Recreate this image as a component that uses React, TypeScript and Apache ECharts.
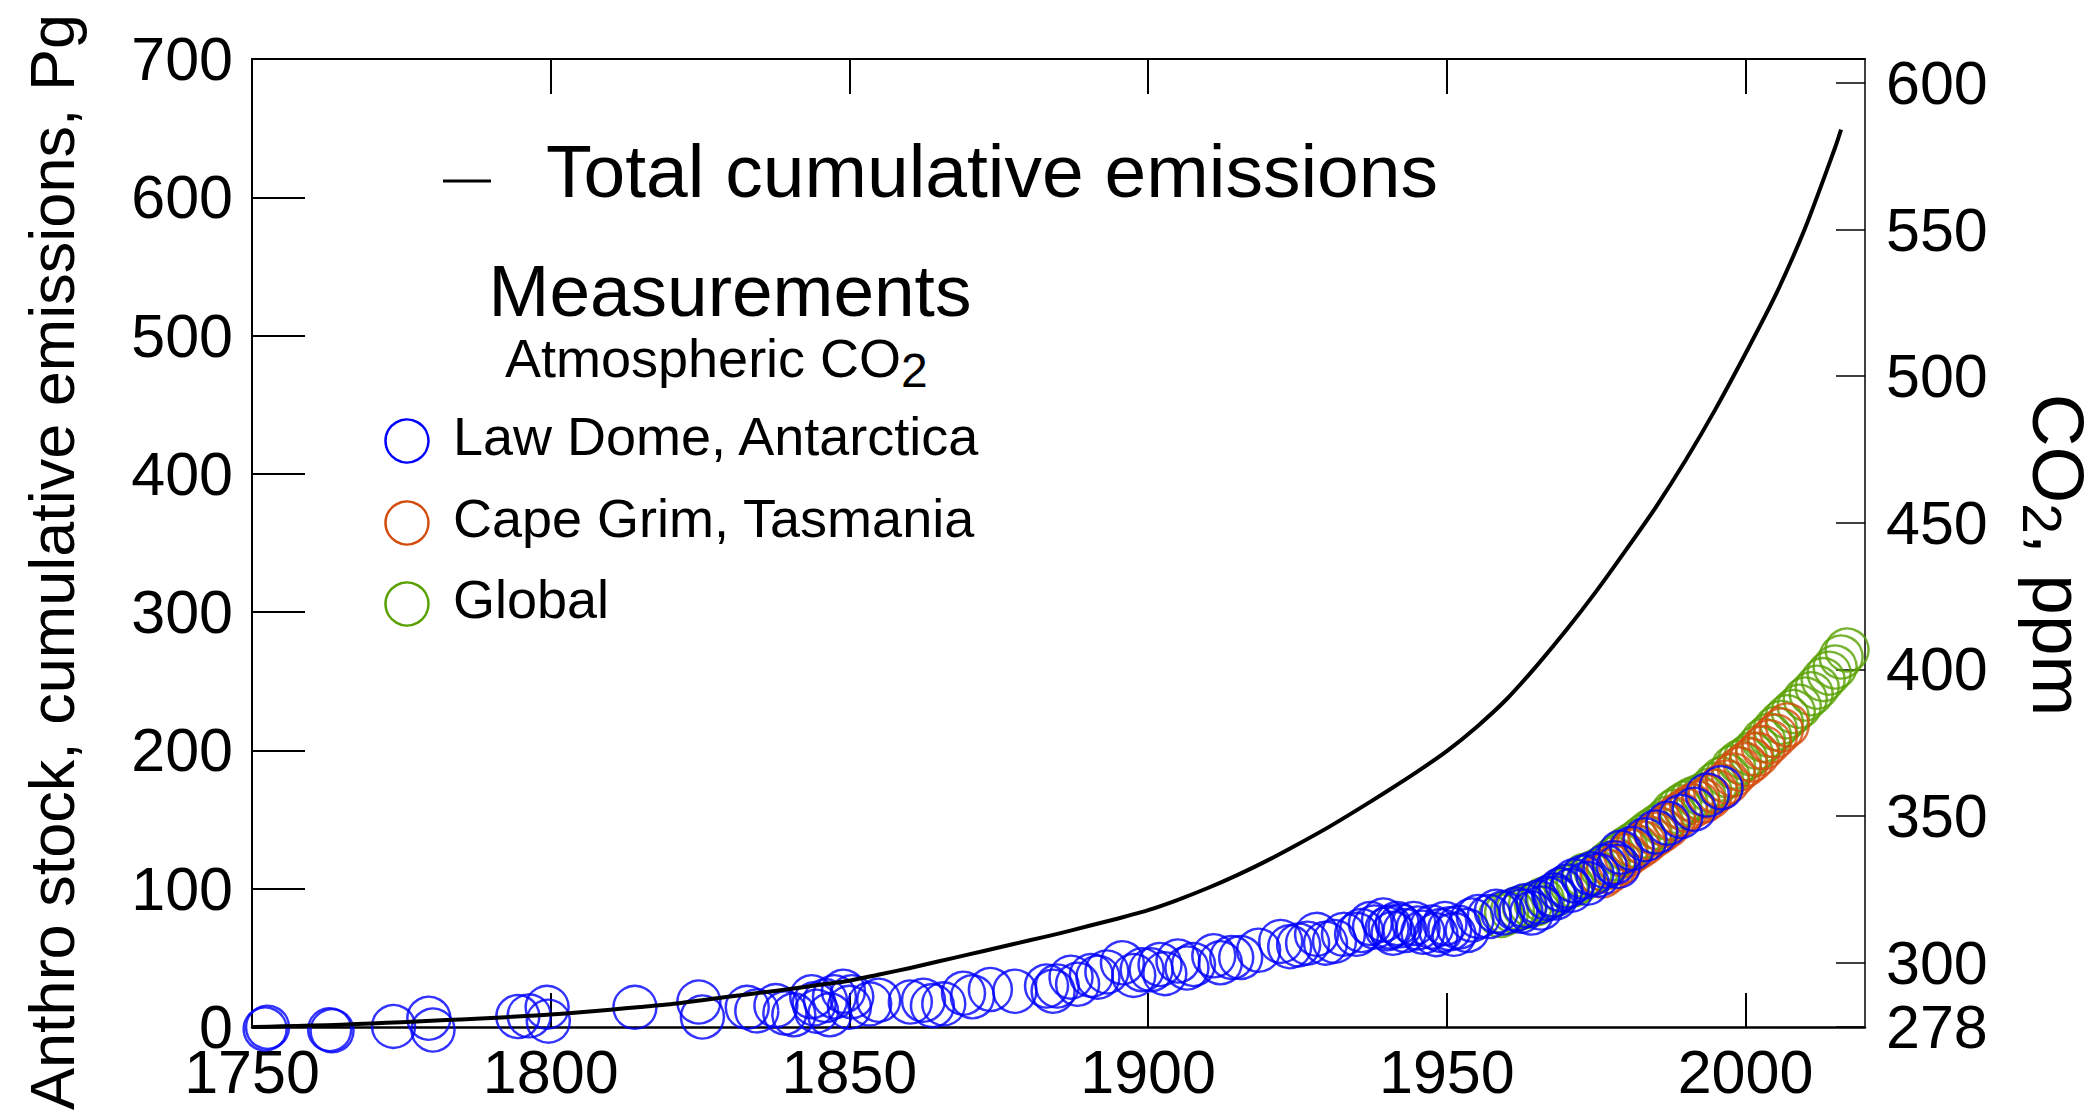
import { useEffect, useRef } from 'react';
import * as echarts from 'echarts';

const FONT = "'Liberation Sans', Arial, Helvetica, sans-serif";

// Total cumulative anthropogenic carbon emissions since 1750 (Pg C)
const emissionYears = [
  1750, 1755, 1760, 1765, 1770, 1775, 1780, 1785, 1790, 1795, 1800, 1805, 1810, 1815,
  1820, 1825, 1830, 1835, 1840, 1845, 1850, 1855, 1860, 1865, 1870, 1875, 1880, 1885,
  1890, 1895, 1900, 1905, 1910, 1915, 1920, 1925, 1930, 1935, 1940, 1945, 1950, 1955,
  1960, 1965, 1970, 1975, 1980, 1985, 1990, 1995, 2000, 2005, 2010, 2015, 2016,
];
const emissionTotals = [
  0, 0.5, 1.0, 1.7, 2.5, 3.5, 4.5, 5.5, 6.5, 7.7, 9.0, 10.7, 12.5, 14.5,
  16.5, 19.2, 22.0, 24.7, 27.5, 30.5, 33.5, 38.0, 42.5, 47.5, 52.5, 57.5, 62.5, 67.5,
  73.0, 78.5, 84.5, 92.0, 100.5, 110.0, 120.5, 132.0, 144.0, 157.0, 170.5, 184.5, 199.5, 217.0,
  237.0, 261.0, 287.0, 315.0, 345.0, 376.0, 410.0, 447.0, 487.0, 529.0, 578.0, 636.0, 649.0,
];

// Atmospheric CO2 (ppm) by year: [year, ppm]
const lawDome: [number, number][] = [
  [1752.2, 277.3], [1752.6, 277.9], [1763.0, 277.1], [1763.4, 276.7], [1773.7, 278.2],
  [1779.6, 281.0], [1780.3, 277.0], [1794.5, 281.6], [1796.4, 281.8], [1799.4, 284.7],
  [1799.6, 280.0], [1814.1, 284.7], [1824.8, 286.5], [1825.4, 281.4], [1832.9, 284.7],
  [1834.5, 283.5], [1837.7, 285.3], [1839.2, 282.8], [1840.7, 282.2], [1843.7, 288.3],
  [1844.1, 285.9], [1844.5, 283.4], [1846.0, 287.0], [1846.7, 282.2], [1847.5, 288.3],
  [1849.0, 290.2], [1850.0, 284.7], [1850.4, 288.3], [1853.4, 285.9], [1854.9, 287.1],
  [1860.2, 286.5], [1862.4, 287.1], [1863.9, 285.3], [1865.8, 285.9], [1869.1, 289.5],
  [1870.6, 288.3], [1873.6, 290.8], [1877.7, 290.2], [1883.0, 292.0], [1884.1, 290.2],
  [1884.8, 292.0], [1887.1, 295.0], [1888.2, 292.6], [1890.5, 295.6], [1891.6, 295.0],
  [1893.1, 296.8], [1895.7, 299.9], [1897.6, 295.6], [1899.0, 297.5], [1900.5, 297.5],
  [1902.0, 299.3], [1902.8, 296.2], [1905.0, 300.5], [1906.5, 298.1], [1907.6, 299.3],
  [1911.0, 302.3], [1912.1, 299.9], [1914.0, 301.7], [1915.5, 301.7], [1918.5, 304.2],
  [1922.2, 307.2], [1923.7, 305.4], [1925.2, 306.0], [1926.7, 306.6], [1928.2, 309.6],
  [1929.7, 306.6], [1931.2, 307.2], [1932.7, 309.6], [1934.9, 309.6], [1935.7, 310.9],
  [1937.2, 313.3], [1937.9, 312.1], [1939.4, 314.5], [1940.0, 311.5], [1940.5, 312.1],
  [1941.0, 310.0], [1941.7, 313.3], [1942.2, 312.5], [1943.0, 310.9], [1944.5, 313.3],
  [1945.2, 311.8], [1946.0, 310.3], [1947.5, 312.1], [1948.2, 309.5], [1949.0, 310.9],
  [1949.7, 313.3], [1950.5, 311.5], [1951.2, 309.6], [1952.0, 312.0], [1953.4, 310.9],
  [1954.2, 314.5], [1955.3, 315.7], [1957.1, 315.7], [1958.3, 317.5], [1959.4, 316.9],
  [1961.6, 318.2], [1962.4, 317.5], [1963.1, 319.4], [1964.2, 316.9], [1965.3, 320.6],
  [1965.8, 318.6], [1966.8, 321.8], [1967.9, 323.0], [1968.2, 322.0], [1969.1, 324.9],
  [1970.2, 326.1], [1970.8, 324.6], [1971.3, 327.9], [1972.8, 329.1], [1973.5, 327.0],
  [1974.3, 330.3], [1975.3, 329.8], [1976.5, 332.8], [1978.0, 334.0], [1978.7, 332.8],
  [1979.1, 337.6], [1981.0, 338.9], [1983.2, 341.9], [1985.0, 344.5], [1987.0, 347.5],
  [1989.2, 349.8], [1991.4, 352.3], [1993.6, 357.1], [1995.9, 359.6],
];

const capeGrim: [number, number][] = [
  [1976, 329.5], [1977, 331.0], [1978, 332.5], [1979, 334.0], [1980, 336.5], [1981, 338.0],
  [1982, 339.3], [1983, 340.7], [1984, 342.4], [1985, 343.8], [1986, 345.2], [1987, 346.7],
  [1988, 349.0], [1989, 350.6], [1990, 352.0], [1991, 353.4], [1992, 354.4], [1993, 355.1],
  [1994, 356.5], [1995, 358.4], [1996, 360.2], [1997, 361.6], [1998, 364.0], [1999, 366.0],
  [2000, 367.5], [2001, 369.1], [2002, 371.0], [2003, 373.3], [2004, 375.3], [2005, 377.3],
  [2006, 379.3], [2007, 381.0],
];

const globalCO2: [number, number][] = [
  [1959, 316.0], [1960, 316.9], [1961, 317.6], [1962, 318.5], [1963, 319.0], [1964, 319.6],
  [1965, 320.0], [1966, 321.4], [1967, 322.2], [1968, 323.0], [1969, 324.6], [1970, 325.7],
  [1971, 326.3], [1972, 327.5], [1973, 329.7], [1974, 330.2], [1975, 331.1], [1976, 332.0],
  [1977, 333.8], [1978, 335.4], [1979, 336.8], [1980, 338.8], [1981, 340.1], [1982, 341.5],
  [1983, 343.1], [1984, 344.7], [1985, 346.1], [1986, 347.4], [1987, 349.2], [1988, 351.6],
  [1989, 353.1], [1990, 354.4], [1991, 355.6], [1992, 356.5], [1993, 357.1], [1994, 358.8],
  [1995, 360.8], [1996, 362.6], [1997, 363.7], [1998, 366.7], [1999, 368.4], [2000, 369.6],
  [2001, 371.1], [2002, 373.3], [2003, 375.8], [2004, 377.5], [2005, 379.8], [2006, 381.9],
  [2007, 383.8], [2008, 385.6], [2009, 387.4], [2010, 389.9], [2011, 391.7], [2012, 393.9],
  [2013, 396.5], [2014, 398.7], [2015, 400.8], [2016, 404.2], [2017, 406.6],
];

const yearTicks = [1750, 1800, 1850, 1900, 1950, 2000];
const ppmTicks = [278, 300, 350, 400, 450, 500, 550, 600];

// The ppm axis is tied to the stock axis: 1 ppm = 2.12 Pg C above the 278 ppm baseline
const PPM_BASE = 278;
const PG_PER_PPM = 2.12;
const STOCK_MAX = 700;

const BLUE = '#0000ff';
const ORANGE = '#d44c0c';
const GREEN = '#58a000';

const GRID = { left: 252, top: 59, width: 1613, height: 968 };

const measurementSeries = (name: string, data: [number, number][], color: string) => ({
  type: 'scatter',
  name,
  xAxisIndex: 0,
  yAxisIndex: 1,
  data,
  symbol: 'circle',
  symbolSize: 43,
  clip: false,
  itemStyle: { color: 'rgba(0,0,0,0)', borderColor: color, borderWidth: 2.5 },
  emphasis: { disabled: true },
});

const legendRow = (label: string, color: string, cy: number) => [
  {
    type: 'circle',
    shape: { cx: 407, cy, r: 21.5 },
    style: { fill: 'none', stroke: color, lineWidth: 2.5 },
  },
  {
    type: 'text',
    x: 453,
    y: cy - 5,
    style: {
      text: label, fontSize: 54, fontFamily: FONT, fill: '#000',
      align: 'left', verticalAlign: 'middle',
    },
  },
];

function buildOption() {
  return {
    animation: false,
    backgroundColor: '#fff',
    textStyle: { fontFamily: FONT, color: '#000' },
    grid: GRID,
    xAxis: [
      {
        type: 'value', position: 'bottom', min: 1750, max: 2020,
        axisLine: { show: true, onZero: false, lineStyle: { color: '#000', width: 2.5 } },
        axisTick: { show: true, inside: true, length: 34, customValues: yearTicks, lineStyle: { color: '#000', width: 2 } },
        axisLabel: {
          customValues: yearTicks, fontSize: 61, fontFamily: FONT, color: '#000',
          margin: 23, lineHeight: 44, formatter: (v: number) => String(Math.round(v)),
        },
        splitLine: { show: false },
      },
      {
        type: 'value', position: 'top', min: 1750, max: 2020,
        axisLine: { show: true, onZero: false, lineStyle: { color: '#000', width: 2 } },
        axisTick: { show: true, inside: true, length: 35, customValues: yearTicks, lineStyle: { color: '#000', width: 2 } },
        axisLabel: { show: false },
        splitLine: { show: false },
      },
    ],
    yAxis: [
      {
        type: 'value', position: 'left', min: 0, max: STOCK_MAX, interval: 100,
        axisLine: { show: true, onZero: false, lineStyle: { color: '#000', width: 2 } },
        axisTick: { show: true, inside: true, length: 53, lineStyle: { color: '#000', width: 2 } },
        axisLabel: {
          fontSize: 61, fontFamily: FONT, color: '#000', margin: 19, lineHeight: 44,
          padding: [0, 0, 10, 0],
        },
        splitLine: { show: false },
      },
      {
        type: 'value', position: 'right', min: PPM_BASE, max: PPM_BASE + STOCK_MAX / PG_PER_PPM,
        axisLine: { show: true, onZero: false, lineStyle: { color: '#000', width: 1.5 } },
        axisTick: { show: true, inside: true, length: 29, customValues: ppmTicks, lineStyle: { color: '#000', width: 1.5 } },
        axisLabel: {
          customValues: ppmTicks, fontSize: 61, fontFamily: FONT, color: '#000', margin: 21,
          lineHeight: 44, formatter: (v: number) => String(Math.round(v)),
        },
        splitLine: { show: false },
      },
    ],
    series: [
      measurementSeries('Global', globalCO2, GREEN),
      measurementSeries('Cape Grim, Tasmania', capeGrim, ORANGE),
      measurementSeries('Law Dome, Antarctica', lawDome, BLUE),
      {
        type: 'line',
        name: 'Total cumulative emissions',
        xAxisIndex: 0,
        yAxisIndex: 0,
        data: emissionYears.map((y, i) => [y, emissionTotals[i]]),
        showSymbol: false,
        symbol: 'none',
        smooth: 0.25,
        lineStyle: { color: '#000', width: 4, join: 'round' },
        emphasis: { disabled: true },
        z: 3,
      },
    ],
    graphic: [
      {
        type: 'text', x: 52, y: 562, rotation: Math.PI / 2,
        style: {
          text: 'Anthro stock, cumulative emissions, Pg', fontSize: 63, fontFamily: FONT,
          fill: '#000', align: 'center', verticalAlign: 'middle',
        },
      },
      {
        type: 'text', x: 2058, y: 555, rotation: -Math.PI / 2,
        style: {
          text: '{m|CO}{s|2}{m|, ppm}', align: 'center', verticalAlign: 'middle',
          rich: {
            m: { fontSize: 73, fontFamily: FONT, fill: '#000', color: '#000' },
            s: { fontSize: 55, fontFamily: FONT, fill: '#000', color: '#000', padding: [32, 0, 0, 0] },
          },
        },
      },
      {
        type: 'line', shape: { x1: 443, y1: 181, x2: 491, y2: 181 },
        style: { stroke: '#000', lineWidth: 3 },
      },
      {
        type: 'text', x: 546, y: 171,
        style: {
          text: 'Total cumulative emissions', fontSize: 75, fontFamily: FONT, fill: '#000',
          align: 'left', verticalAlign: 'middle',
        },
      },
      {
        type: 'text', x: 730, y: 290,
        style: {
          text: 'Measurements', fontSize: 73, fontFamily: FONT, fill: '#000',
          align: 'center', verticalAlign: 'middle',
        },
      },
      {
        type: 'text', x: 505, y: 358,
        style: {
          text: '{m|Atmospheric CO}{s|2}', align: 'left', verticalAlign: 'middle',
          rich: {
            m: { fontSize: 54, fontFamily: FONT, fill: '#000', color: '#000' },
            s: { fontSize: 48, fontFamily: FONT, fill: '#000', color: '#000', padding: [25, 0, 0, 0] },
          },
        },
      },
      ...legendRow('Law Dome, Antarctica', BLUE, 441),
      ...legendRow('Cape Grim, Tasmania', ORANGE, 523),
      ...legendRow('Global', GREEN, 604),
    ],
  };
}

export default function App() {
  const ref = useRef<HTMLDivElement>(null);
  useEffect(() => {
    if (!ref.current) return;
    const chart = echarts.init(ref.current, undefined, { renderer: 'svg' });
    chart.setOption(buildOption() as any);
    return () => chart.dispose();
  }, []);
  return (
    <div
      ref={ref}
      style={{ position: 'fixed', left: 0, top: 0, width: 2097, height: 1119, background: '#fff' }}
    />
  );
}
